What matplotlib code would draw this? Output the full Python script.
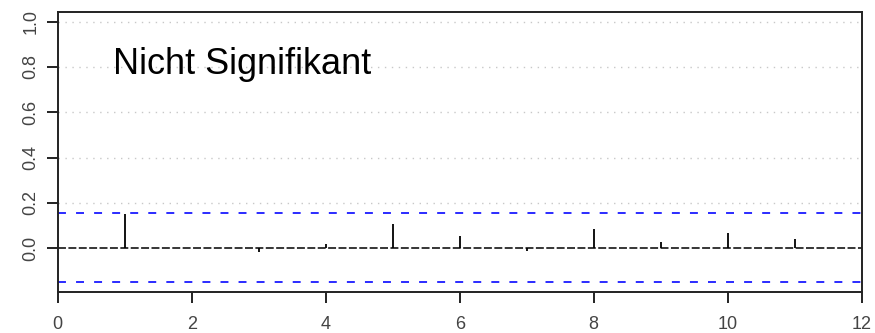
import numpy as np
import matplotlib
matplotlib.use("Agg")
import matplotlib.pyplot as plt

plt.rcParams['font.family'] = ['Liberation Sans', 'DejaVu Sans']

# autocorrelation values (lag 0 not drawn)
lags = [1, 2, 3, 4, 5, 6, 7, 8, 9, 10, 11]
acf_vals = [0.151, 0.003, -0.018, 0.018, 0.106, 0.054, -0.010, 0.084, 0.026, 0.069, 0.040]
ci_upper = 0.156
ci_lower = -0.149
grid_levels = [0.2, 0.4, 0.6, 0.8, 1.0]
x_ticks = [0, 2, 4, 6, 8, 10, 12]
y_ticks = [0.0, 0.2, 0.4, 0.6, 0.8, 1.0]
label_text = "Nicht Signifikant"

fig = plt.figure(figsize=(8.75, 3.33), dpi=100)
ax = fig.add_axes([57.7 / 875, 1 - 292 / 333, (861.7 - 57.7) / 875, (292 - 11.7) / 333])

for g in grid_levels:
    ax.axhline(g, color='#c8c8c8', linestyle=(0, (1, 4)), linewidth=1.0, zorder=0)

ax.axhline(0, color='black', linestyle=(0, (5.2, 1.6)), linewidth=1.1, zorder=2)
ax.vlines(lags, 0, acf_vals, color='black', linewidth=1.3, zorder=3)
ax.axhline(ci_upper, color='#1a1aff', linestyle=(0, (4.4, 5.6)), linewidth=1.3, zorder=2)
ax.axhline(ci_lower, color='#1a1aff', linestyle=(0, (4.4, 5.6)), linewidth=1.3, zorder=2)

# annotation placed in figure pixel coordinates (baseline at y=74 from top)
fig.text(113 / 875, 1 - 74 / 333, label_text, fontsize=26, color='black',
         ha='left', va='baseline')

ax.set_xlim(0, 12)
ax.set_ylim(-0.193, 1.044)
ax.set_xticks(x_ticks)
ax.set_yticks(y_ticks)
ax.set_yticklabels([f"{v:.1f}" for v in y_ticks], rotation=90, va='center')
ax.tick_params(axis='both', length=8, width=1.4, color='#222222',
               labelcolor='#444444', labelsize=13)
ax.tick_params(axis='x', pad=9)
ax.tick_params(axis='y', pad=5)
for s in ax.spines.values():
    s.set_linewidth(1.4)
    s.set_color('#222222')

fig.savefig('out.png', dpi=100)
